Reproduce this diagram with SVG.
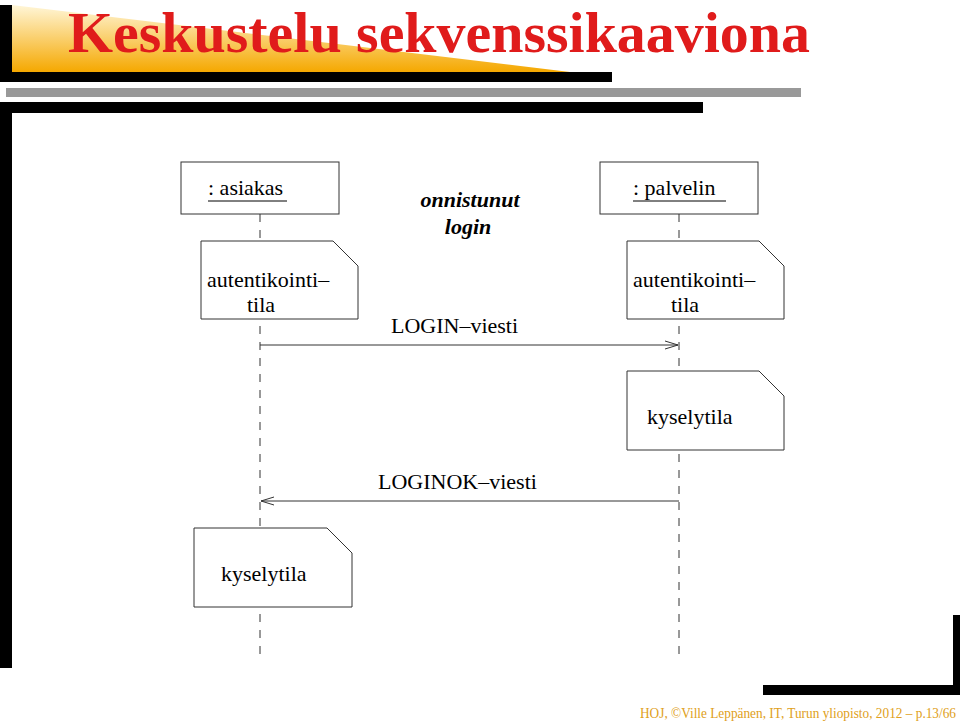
<svg xmlns="http://www.w3.org/2000/svg" width="960" height="722" viewBox="0 0 960 722">
<defs>
<linearGradient id="og" x1="0" y1="0" x2="0" y2="1">
<stop offset="0" stop-color="#fff6d8"/><stop offset="1" stop-color="#f5a800"/>
</linearGradient>
<marker id="ah" markerWidth="14" markerHeight="10" refX="13" refY="5" orient="auto" markerUnits="userSpaceOnUse">
<path d="M0,1 L13,5 L0,9" fill="none" stroke="#333" stroke-width="1"/>
</marker>
<style>
.box{fill:#fff;stroke:#333;stroke-width:1}
.life{stroke:#333;stroke-width:1;stroke-dasharray:8,8}
.msg{stroke:#333;stroke-width:1;fill:none;marker-end:url(#ah)}
</style>
</defs>
<rect width="960" height="722" fill="#fff"/>
<polygon points="12,5 12,72 570,72" fill="url(#og)"/>
<rect x="0" y="5" width="12" height="77" fill="#000"/>
<rect x="0" y="72" width="612" height="10" fill="#000"/>
<rect x="6" y="88" width="795" height="9" fill="#999"/>
<rect x="0" y="102" width="703" height="11" fill="#000"/>
<rect x="0" y="102" width="12" height="566" fill="#000"/>
<rect x="763" y="685" width="197" height="10" fill="#000"/>
<rect x="953" y="615" width="7" height="80" fill="#000"/>
<text x="68" y="52" font-family="Liberation Serif, serif" font-size="56" font-weight="bold" fill="#e01b1b" textLength="742" lengthAdjust="spacingAndGlyphs">Keskustelu sekvenssikaaviona</text>
<text x="640" y="718" font-family="Liberation Serif, serif" font-size="14" fill="#e0a020" textLength="316" lengthAdjust="spacingAndGlyphs">HOJ, ©Ville Leppänen, IT, Turun yliopisto, 2012 – p.13/66</text>
<g id="connectors">
<line class="life" x1="260" y1="214" x2="260" y2="660"/>
<line class="life" x1="679" y1="214" x2="679" y2="660"/>
<line class="msg" x1="260" y1="345" x2="678" y2="345"/>
<line class="msg" x1="679" y1="501" x2="261" y2="501"/>
</g>
<g font-family="Liberation Serif, serif" font-size="22" fill="#000">
<g id="asiakas"><rect class="box" x="181" y="162" width="158" height="52"/><text x="208" y="195">: asiakas</text><line x1="208" y1="201" x2="287" y2="201" stroke="#000"/></g>
<g id="palvelin"><rect class="box" x="600" y="162" width="158" height="52"/><text x="633" y="195">: palvelin</text><line x1="633" y1="201" x2="726" y2="201" stroke="#000"/></g>
<g id="title2" font-style="italic" font-weight="bold"><text x="470" y="207" text-anchor="middle">onnistunut</text><text x="468" y="234" text-anchor="middle">login</text></g>
<g id="note1"><path class="box" d="M201,241 H333 L358,266 V319 H201 Z"/><text x="207" y="287">autentikointi–</text><text x="247" y="312">tila</text></g>
<g id="note2"><path class="box" d="M627,241 H759 L784,266 V319 H627 Z"/><text x="633" y="287">autentikointi–</text><text x="671" y="312">tila</text></g>
<g id="note3"><path class="box" d="M627,371 H759 L784,396 V450 H627 Z"/><text x="647" y="424">kyselytila</text></g>
<g id="note4"><path class="box" d="M194,528 H327 L352,553 V607 H194 Z"/><text x="221" y="581">kyselytila</text></g>
<text x="391" y="333">LOGIN–viesti</text>
<text x="378" y="489">LOGINOK–viesti</text>
</g>
</svg>
